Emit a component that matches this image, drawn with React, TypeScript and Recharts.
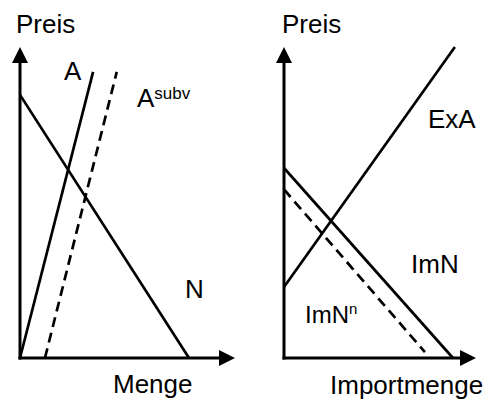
import { ComposedChart, Line, XAxis, YAxis, ReferenceDot } from 'recharts'

// left panel: supply A, subsidised supply A^subv, demand N
const angebot = [{ x: 0, y: 0 }, { x: 34, y: 92 }]
const angebotSubv = [{ x: 11.6, y: 0 }, { x: 45, y: 92 }]
const nachfrage = [{ x: 0, y: 84.6 }, { x: 78.6, y: 0 }]

// right panel: export supply ExA, import demand ImN, new import demand ImN^n
const exportAngebot = [{ x: 0, y: 22.8 }, { x: 89, y: 100 }]
const importNachfrage = [{ x: 0, y: 61.1 }, { x: 88, y: 0 }]
const importNachfrageNeu = [{ x: 0, y: 54.2 }, { x: 73.4, y: 1.9 }]

// axis arrows (both panels use 0..100)
const axisMax = 100
const xAxisLine = [{ x: 0, y: 0 }, { x: 95, y: 0 }]
const yAxisLine = [{ x: 0, y: 0 }, { x: 0, y: 96 }]

const font = '"Liberation Sans", Arial, sans-serif'

const ArrowRight = (props: any) => {
  const { cx, cy } = props
  return <path d={`M${cx},${cy} L${cx - 16},${cy - 8} L${cx - 16},${cy + 8} Z`} fill="#000" />
}

const ArrowUp = (props: any) => {
  const { cx, cy } = props
  return <path d={`M${cx},${cy} L${cx - 8},${cy + 16} L${cx + 8},${cy + 16} Z`} fill="#000" />
}

function Axes() {
  return [
    <XAxis key="x" dataKey="x" type="number" domain={[0, axisMax]} hide />,
    <YAxis key="y" dataKey="y" type="number" domain={[0, axisMax]} hide />,
    <Line key="lx" data={xAxisLine} dataKey="y" stroke="#000" strokeWidth={3} strokeLinecap="square" dot={false} isAnimationActive={false} />,
    <Line key="ly" data={yAxisLine} dataKey="y" stroke="#000" strokeWidth={3} strokeLinecap="square" dot={false} isAnimationActive={false} />,
    <ReferenceDot key="ax" x={axisMax} y={0} ifOverflow="visible" shape={ArrowRight} />,
    <ReferenceDot key="ay" x={0} y={axisMax} ifOverflow="visible" shape={ArrowUp} />,
  ]
}

const textStyle = { fontFamily: font, fontSize: 26, fill: '#000' }
const lw = 2.7

export default function App() {
  return (
    <div style={{ position: 'absolute', left: 0, top: 0, width: 486, height: 401, background: '#fff' }}>
      <div style={{ position: 'absolute', left: 0, top: 0 }}>
        <ComposedChart width={243} height={401} margin={{ top: 47, right: 8, bottom: 43, left: 20 }}>
          {Axes()}
          <Line data={angebot} dataKey="y" stroke="#000" strokeWidth={lw} dot={false} isAnimationActive={false} />
          <Line data={angebotSubv} dataKey="y" stroke="#000" strokeWidth={lw} strokeDasharray="10 6" dot={false} isAnimationActive={false} />
          <Line data={nachfrage} dataKey="y" stroke="#000" strokeWidth={lw} dot={false} isAnimationActive={false} />
          <text x={16} y={33} style={textStyle}>Preis</text>
          <text x={64} y={80} style={textStyle}>A</text>
          <text x={137} y={107} style={textStyle}>
            A<tspan fontSize={17} dy={-8}>subv</tspan>
          </text>
          <text x={185} y={298} style={textStyle}>N</text>
          <text x={113} y={393} style={textStyle}>Menge</text>
        </ComposedChart>
      </div>
      <div style={{ position: 'absolute', left: 243, top: 0 }}>
        <ComposedChart width={243} height={401} margin={{ top: 47, right: 10, bottom: 43, left: 41 }}>
          {Axes()}
          <Line data={exportAngebot} dataKey="y" stroke="#000" strokeWidth={lw} dot={false} isAnimationActive={false} />
          <Line data={importNachfrage} dataKey="y" stroke="#000" strokeWidth={lw} dot={false} isAnimationActive={false} />
          <Line data={importNachfrageNeu} dataKey="y" stroke="#000" strokeWidth={lw} strokeDasharray="10 6" dot={false} isAnimationActive={false} />
          <text x={39} y={33} style={textStyle}>Preis</text>
          <text x={185} y={128} style={textStyle}>ExA</text>
          <text x={168} y={273} style={textStyle}>ImN</text>
          <text x={62} y={323} style={{ ...textStyle, fontSize: 24 }}>
            ImN<tspan fontSize={15} dy={-9}>n</tspan>
          </text>
          <text x={87} y={394} style={textStyle}>Importmenge</text>
        </ComposedChart>
      </div>
    </div>
  )
}
